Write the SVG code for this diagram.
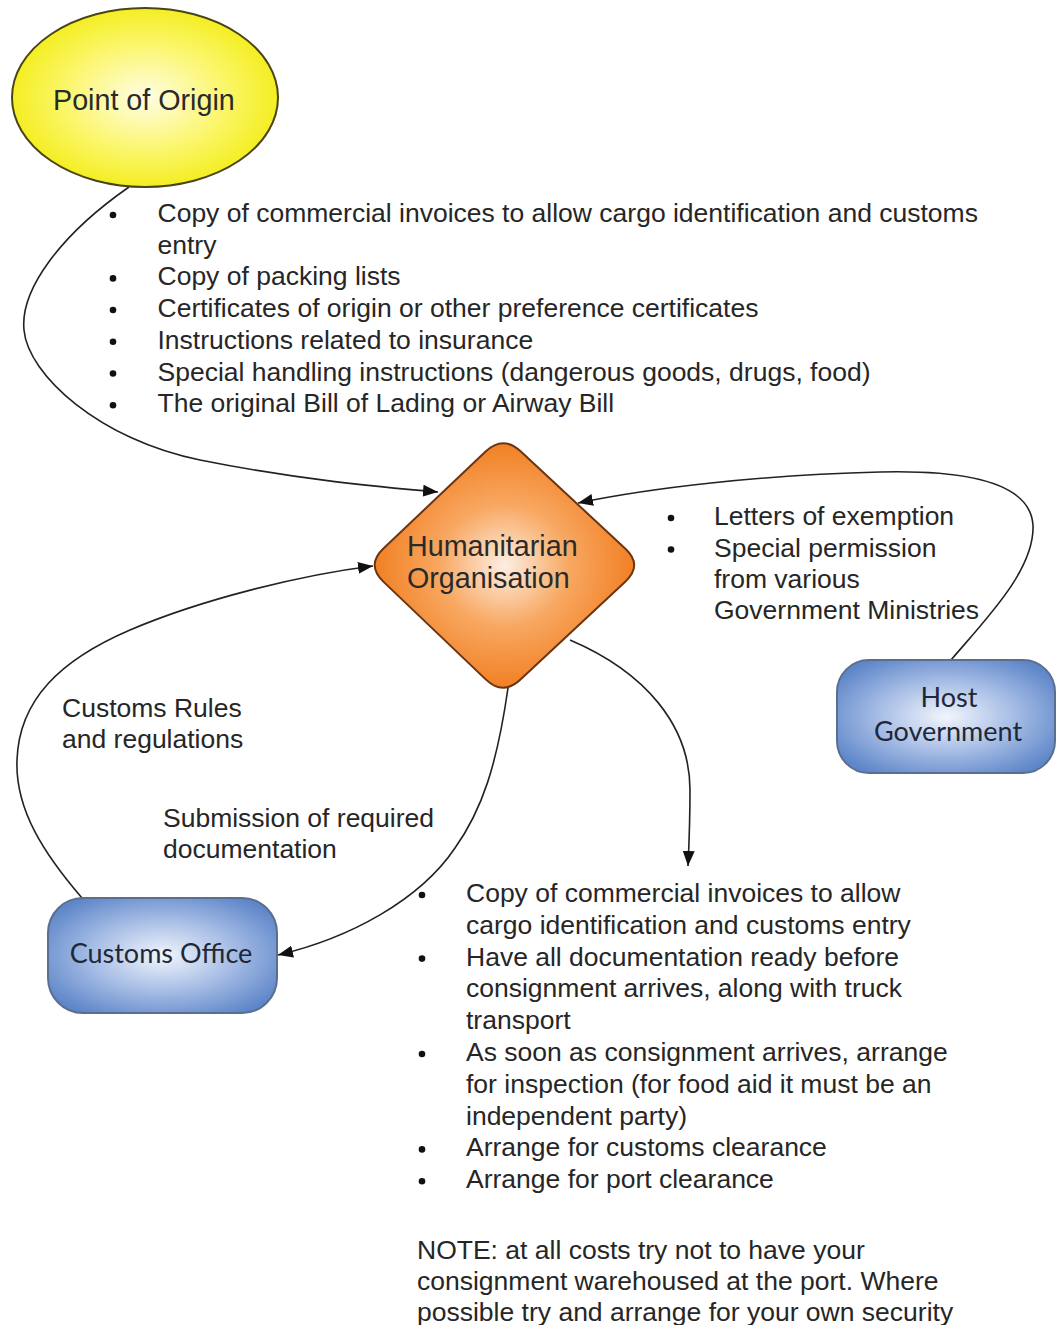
<svg xmlns="http://www.w3.org/2000/svg" width="1056" height="1325" viewBox="0 0 1056 1325">
<defs>
<radialGradient id="gYellow" cx="50%" cy="50%" r="55%">
<stop offset="0" stop-color="#fffde6"/>
<stop offset="0.55" stop-color="#fbf66a"/>
<stop offset="1" stop-color="#f2ec10"/>
</radialGradient>
<radialGradient id="gOrange" cx="50%" cy="50%" r="55%">
<stop offset="0" stop-color="#fdeee2"/>
<stop offset="0.45" stop-color="#f8a862"/>
<stop offset="1" stop-color="#f07818"/>
</radialGradient>
<radialGradient id="gBlue" cx="50%" cy="50%" r="60%">
<stop offset="0" stop-color="#f2f5fc"/>
<stop offset="0.5" stop-color="#a9bfe6"/>
<stop offset="1" stop-color="#5e86c9"/>
</radialGradient>
<marker id="arr" markerUnits="userSpaceOnUse" markerWidth="15" markerHeight="12" refX="15" refY="6" orient="auto">
<path d="M0,0 L15,6 L0,12 Z" fill="#111"/>
</marker>
</defs>
<style>
.t{font-family:"Liberation Sans",Arial,sans-serif;fill:#262626;font-size:26.5px}
.node{font-family:"Liberation Sans",Arial,sans-serif;font-size:28.7px;fill:#2a2a2a}
.box{font-family:Lato,"Open Sans",sans-serif;font-size:27px;fill:#1e2838}
.conn{fill:none;stroke:#222;stroke-width:1.6;marker-end:url(#arr)}
.b{fill:#111}
</style>
<rect width="1056" height="1325" fill="#fff"/>

<g id="connectors">
<path class="conn" d="M129,187 C60,235 20,290 24,330 C28,375 100,440 200,460 C300,480 380,487 438,492"/>
<path class="conn" d="M951,660 C985,620 1035,570 1033,525 C1030,480 960,470 880,472 C760,475 650,488 578,503"/>
<path class="conn" d="M82,898 C45,855 15,810 17,760 C19,700 60,660 130,630 C200,600 300,575 373,566"/>
<path class="conn" d="M508,688 C497,765 482,810 455,848 C420,900 350,938 278,955"/>
<path class="conn" d="M570,640 C645,672 690,725 690,790 C690,820 689,845 688,866"/>
</g>

<g id="point-of-origin">
<ellipse cx="145" cy="97.5" rx="133" ry="89.5" fill="url(#gYellow)" stroke="#4a4418" stroke-width="2"/>
<text class="node" x="53" y="110">Point of Origin</text>
</g>

<g id="humanitarian-organisation">
<path d="M485.6,451.5 Q503,435 520.6,451.3 L625.4,548.7 Q643,565 625.5,581.4 L520.5,679.6 Q503,696 485.7,679.4 L383.3,581.6 Q366,565 383.4,548.5 Z" fill="url(#gOrange)" stroke="#6b3412" stroke-width="2"/>
<text class="node" x="407" y="556">Humanitarian</text>
<text class="node" x="407" y="588">Organisation</text>
</g>

<g id="host-government">
<rect x="837" y="660" width="218" height="113" rx="32" fill="url(#gBlue)" stroke="#5a6f90" stroke-width="2"/>
<text class="box" x="949" y="707" text-anchor="middle">Host</text>
<text class="box" x="948" y="741" text-anchor="middle">Government</text>
</g>

<g id="customs-office">
<rect x="48" y="898" width="229" height="115" rx="35" fill="url(#gBlue)" stroke="#5a6f90" stroke-width="2"/>
<text class="box" x="161" y="963" text-anchor="middle">Customs Office</text>
</g>

<g id="label-origin-docs">
<circle class="b" cx="113" cy="215" r="3.3"/>
<circle class="b" cx="113" cy="278.4" r="3.3"/>
<circle class="b" cx="113" cy="310" r="3.3"/>
<circle class="b" cx="113" cy="341.8" r="3.3"/>
<circle class="b" cx="113" cy="373.5" r="3.3"/>
<circle class="b" cx="113" cy="405.2" r="3.3"/>
<text class="t" x="157.5" y="222">Copy of commercial invoices to allow cargo identification and customs</text>
<text class="t" x="157.5" y="253.7">entry</text>
<text class="t" x="157.5" y="285.4">Copy of packing lists</text>
<text class="t" x="157.5" y="317">Certificates of origin or other preference certificates</text>
<text class="t" x="157.5" y="348.8">Instructions related to insurance</text>
<text class="t" x="157.5" y="380.5">Special handling instructions (dangerous goods, drugs, food)</text>
<text class="t" x="157.5" y="412.2">The original Bill of Lading or Airway Bill</text>
</g>

<g id="label-host">
<circle class="b" cx="671" cy="518" r="3.3"/>
<circle class="b" cx="671" cy="549.5" r="3.3"/>
<text class="t" x="714" y="525">Letters of exemption</text>
<text class="t" x="714" y="556.5">Special permission</text>
<text class="t" x="714" y="588">from various</text>
<text class="t" x="714" y="619">Government Ministries</text>
</g>

<g id="label-customs-rules">
<text class="t" x="62" y="717">Customs Rules</text>
<text class="t" x="62" y="748">and regulations</text>
</g>

<g id="label-submission">
<text class="t" x="163" y="827">Submission of required</text>
<text class="t" x="163" y="858">documentation</text>
</g>

<g id="label-steps">
<circle class="b" cx="422" cy="895" r="3.3"/>
<circle class="b" cx="422" cy="958.6" r="3.3"/>
<circle class="b" cx="422" cy="1054" r="3.3"/>
<circle class="b" cx="422" cy="1149.4" r="3.3"/>
<circle class="b" cx="422" cy="1181.2" r="3.3"/>
<text class="t" x="466" y="902">Copy of commercial invoices to allow</text>
<text class="t" x="466" y="933.8">cargo identification and customs entry</text>
<text class="t" x="466" y="965.6">Have all documentation ready before</text>
<text class="t" x="466" y="997.4">consignment arrives, along with truck</text>
<text class="t" x="466" y="1029.2">transport</text>
<text class="t" x="466" y="1061">As soon as consignment arrives, arrange</text>
<text class="t" x="466" y="1092.8">for inspection (for food aid it must be an</text>
<text class="t" x="466" y="1124.6">independent party)</text>
<text class="t" x="466" y="1156.4">Arrange for customs clearance</text>
<text class="t" x="466" y="1188.2">Arrange for port clearance</text>
<text class="t" x="417" y="1259">NOTE: at all costs try not to have your</text>
<text class="t" x="417" y="1290">consignment warehoused at the port. Where</text>
<text class="t" x="417" y="1321">possible try and arrange for your own security</text>
</g>
</svg>
